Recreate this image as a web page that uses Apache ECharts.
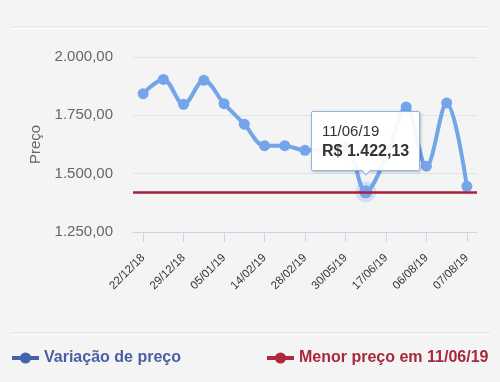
<!DOCTYPE html>
<html>
<head>
<meta charset="utf-8">
<script src="https://cdn.jsdelivr.net/npm/echarts@6/dist/echarts.min.js"></script>
<style>
html,body{margin:0;padding:0;background:#f4f4f4;}
#c{width:500px;height:382px;}
</style>
</head>
<body>
<div id="c"></div>
<script>
var categories = ['22/12/18','26/12/18','29/12/18','02/01/19','05/01/19','25/01/19','14/02/19','21/02/19','28/02/19','15/03/19','30/05/19','11/06/19','17/06/19','10/07/19','06/08/19','06/08/19','07/08/19'];
var prices = [1843, 1904, 1797, 1900, 1800, 1712, 1620, 1620, 1600, 1600, 1615, 1422.13, 1570, 1786, 1532, 1803, 1446];
var minPrice = 1422.13;
var minDate = '11/06/19';
var yTicks = [1250, 1500, 1750, 2000];
var seriesNames = ['Variação de preço', 'Menor preço em ' + minDate];

function fmt(v, dec) {
  var parts = v.toFixed(dec).split('.');
  parts[0] = parts[0].replace(/\B(?=(\d{3})+(?!\d))/g, '.');
  return parts.join(',');
}

var minIdx = prices.indexOf(minPrice);
var lineColor = '#74a4ea';
var seriesData = prices.map(function (v, i) {
  if (i === minIdx) {
    return { value: v, symbolSize: 13, itemStyle: { color: lineColor, borderColor: 'rgba(116,164,234,0.25)', borderWidth: 8 } };
  }
  return v;
});

var chart = echarts.init(document.getElementById('c'), null, { renderer: 'canvas' });
chart.setOption({
  animation: false,
  backgroundColor: '#f4f4f4',
  textStyle: { fontFamily: 'Liberation Sans, Arial, sans-serif' },
  grid: { left: 133, right: 23, top: 57, bottom: 150, containLabel: false, outerBoundsMode: 'none' },
  graphic: [
    { type: 'line', shape: { x1: 11, y1: 27, x2: 488, y2: 27 }, style: { stroke: '#e3e3e3', lineWidth: 1 } },
    { type: 'line', shape: { x1: 11, y1: 28.5, x2: 488, y2: 28.5 }, style: { stroke: '#ffffff', lineWidth: 1 } },
    { type: 'line', shape: { x1: 11, y1: 333, x2: 490, y2: 333 }, style: { stroke: '#e3e3e3', lineWidth: 1 } },
    { type: 'line', shape: { x1: 11, y1: 334.5, x2: 490, y2: 334.5 }, style: { stroke: '#ffffff', lineWidth: 1 } }
  ],
  legend: [
    {
      left: 10, top: 350, padding: 0, itemWidth: 27, itemHeight: 14,
      data: [{ name: seriesNames[0], itemStyle: { color: '#4563ad' }, lineStyle: { color: '#4563ad', width: 4 }, textStyle: { color: '#4a5ea6' } }],
      textStyle: { fontSize: 16, fontWeight: 'bold', fontFamily: 'Liberation Sans, Arial, sans-serif' }
    },
    {
      left: 265, top: 350, padding: 0, itemWidth: 27, itemHeight: 14,
      data: [{ name: seriesNames[1], itemStyle: { color: '#b0283c' }, lineStyle: { color: '#b0283c', width: 4 }, textStyle: { color: '#a8283c' } }],
      textStyle: { fontSize: 16, fontWeight: 'bold', fontFamily: 'Liberation Sans, Arial, sans-serif' }
    }
  ],
  tooltip: {
    trigger: 'item',
    triggerOn: 'none',
    alwaysShowContent: true,
    transitionDuration: 0,
    position: 'top',
    backgroundColor: 'rgba(255,255,255,0.93)',
    borderColor: '#8fb4ea',
    borderWidth: 1,
    padding: [9, 10, 9, 10],
    extraCssText: 'box-shadow: 1px 1px 3px rgba(0,0,0,0.25); border-radius:2px;',
    formatter: function (p) {
      return '<div style="font-family:Liberation Sans,Arial,sans-serif;color:#333;line-height:20px;">' +
        '<span style="font-size:15px;">' + p.name + '</span><br/>' +
        '<span style="font-size:16px;font-weight:bold;">R$ ' + fmt(p.value, 2) + '</span></div>';
    }
  },
  xAxis: {
    type: 'category',
    data: categories,
    boundaryGap: true,
    axisLine: { lineStyle: { color: '#ccd6eb', width: 1 } },
    axisTick: { show: true, alignWithLabel: true, interval: 1, length: 10, lineStyle: { color: '#ccd6eb' } },
    axisLabel: { interval: 1, rotate: 45, margin: 24, fontSize: 11.5, color: '#333' },
    splitLine: { show: false }
  },
  yAxis: {
    type: 'value',
    min: yTicks[0],
    max: yTicks[yTicks.length - 1],
    interval: 250,
    name: 'Preço',
    nameLocation: 'middle',
    nameGap: 89,
    nameTextStyle: { fontSize: 15, color: '#666' },
    axisLine: { show: false },
    axisTick: { show: false },
    axisLabel: { margin: 20, fontSize: 15, color: '#666', formatter: function (v) { return fmt(v, 2); } },
    splitLine: { lineStyle: { color: '#e4e4e4', width: 1 } }
  },
  series: [
    {
      name: seriesNames[0],
      type: 'line',
      data: seriesData,
      smooth: 0.35,
      symbol: 'circle',
      symbolSize: 11,
      lineStyle: { color: lineColor, width: 4 },
      itemStyle: { color: lineColor },
      z: 3
    },
    {
      name: seriesNames[1],
      type: 'line',
      data: [],
      symbol: 'circle',
      itemStyle: { color: '#a8203a' },
      lineStyle: { color: '#a8203a' },
      markLine: {
        silent: true,
        symbol: 'none',
        label: { show: false },
        lineStyle: { color: '#a8203a', width: 2.5, type: 'solid' },
        data: [{ yAxis: minPrice }]
      },
      z: 2
    }
  ]
});
chart.dispatchAction({ type: 'showTip', seriesIndex: 0, dataIndex: minIdx });
</script>
</body>
</html>
